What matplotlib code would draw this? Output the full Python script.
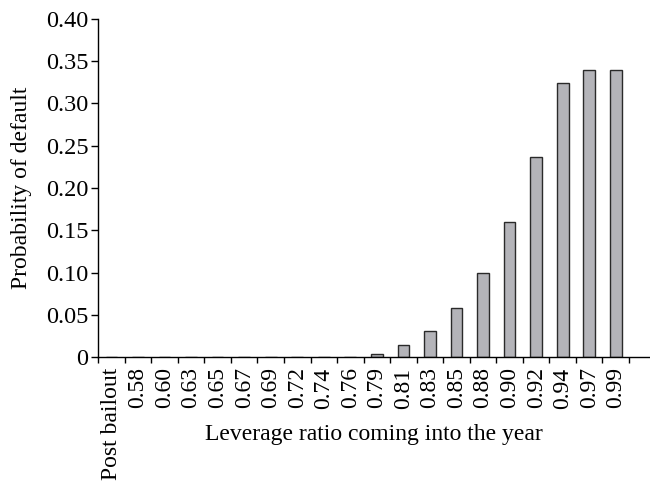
import numpy as np
import matplotlib.pyplot as plt

plt.rcParams['font.family'] = ['Liberation Serif', 'DejaVu Serif']

categories = ["Post bailout", "0.58", "0.60", "0.63", "0.65", "0.67", "0.69", "0.72",
              "0.74", "0.76", "0.79", "0.81", "0.83", "0.85", "0.88", "0.90", "0.92",
              "0.94", "0.97", "0.99"]
prob_default = [0, 0, 0, 0, 0, 0, 0, 0, 0, 0, 0.003, 0.014, 0.031, 0.058, 0.100,
                0.160, 0.237, 0.324, 0.340, 0.340]
yticks = [0, 0.05, 0.10, 0.15, 0.20, 0.25, 0.30, 0.35, 0.40]
ytick_labels = ["0", "0.05", "0.10", "0.15", "0.20", "0.25", "0.30", "0.35", "0.40"]

fig = plt.figure(figsize=(6.5, 4.82), dpi=100)
ax = fig.add_axes([0.151, 0.2593, 0.849, 0.7013])

x = np.arange(len(categories))
ax.bar(x, prob_default, width=0.44, color='#b4b4b9', edgecolor='#2a2a2a', linewidth=1.0)

ax.set_xlim(-0.5, 20.29)
ax.set_ylim(0, 0.40)

ax.set_yticks(yticks)
ax.set_yticklabels(ytick_labels, fontsize=17.5)
ax.set_xticks(x)
ax.set_xticklabels(categories, rotation=90, fontsize=17)
ax.set_xticks(np.arange(-0.5, len(categories)), minor=True)
ax.tick_params(axis='x', which='major', length=0, pad=7.5)
ax.tick_params(axis='x', which='minor', length=4, width=1, direction='out')
ax.tick_params(axis='y', length=5, width=1, direction='out', pad=2)

for s in ['top', 'right']:
    ax.spines[s].set_visible(False)
for s in ['left', 'bottom']:
    ax.spines[s].set_linewidth(1.0)

ax.set_ylabel("Probability of default", fontsize=17, va='center')
ax.yaxis.set_label_coords(-0.139, 0.5)
ax.set_xlabel("Leverage ratio coming into the year", fontsize=17, va='center')
ax.xaxis.set_label_coords(0.499, -0.228)

fig.savefig("out.png", dpi=100)
